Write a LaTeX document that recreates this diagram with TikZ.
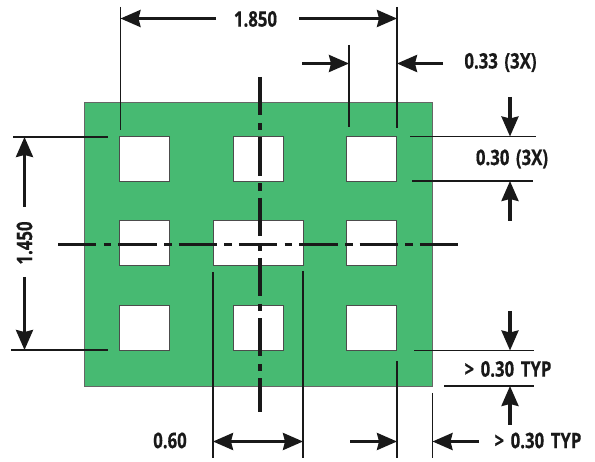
\documentclass[tikz,border=0pt]{standalone}
\usepackage{fontspec}
\setmainfont{Open Sans}[BoldFont={Open Sans Bold}, BoldFeatures={FakeStretch=0.78, FakeBold=0.5, WordSpace=1.5}]
\usetikzlibrary{arrows.meta, positioning}
\definecolor{boardgreen}{HTML}{47BA72}

\begin{document}
\begin{tikzpicture}[x=1pt, y=-1pt]
    % --- Style Definitions ---
    \tikzset{
        board style/.style={
            draw=black!60,
            line width=1pt,
            fill=boardgreen,
            minimum width=348pt,
            minimum height=284pt,
            inner sep=0pt,
            outer sep=0pt
        },
        hole style/.style={
            draw=black!70,
            line width=1pt,
            fill=white,
            minimum width=50pt,
            minimum height=45pt,
            inner sep=0pt,
            outer sep=0pt
        },
        wide hole/.style={
            hole style,
            minimum width=90pt
        },
        center line/.style={
            black!90,
            line width=3.1pt,
            dash pattern=on 38.3pt off 7.5pt on 7.5pt off 7pt
        },
        ext line/.style={
            black!90,
            line width=1.9pt
        },
        dim arrow/.style={
            -{Stealth[length=20pt, width=17pt, inset=2pt]},
            black!90,
            line width=3.1pt
        },
        dim both/.style={
            dim arrow,
            {Stealth[length=20pt, width=17pt, inset=2pt]}-{Stealth[length=20pt, width=17pt, inset=2pt]}
        },
        dim label/.style={
            font=\bfseries\fontsize{21.5pt}{22pt}\selectfont,
            black!90,
            inner sep=0pt
        }
    }
    \useasboundingbox (0,0) rectangle (595,462);

    % --- 1. Board and Holes ---
    \node[board style] (board) at (258.2,244.2) {};

    \node[hole style] (hole_a1) at (144.3,158.7) {};
    \node[hole style] (hole_b1) at (258.3,158.7) {};
    \node[hole style] (hole_c1) at (371.9,158.7) {};
    \node[hole style] (hole_a2) at (144.3,243.3) {};
    \node[wide hole] (hole_b2) at (258.3,243.3) {};
    \node[hole style] (hole_c2) at (371.9,243.3) {};
    \node[hole style] (hole_a3) at (144.3,328.3) {};
    \node[hole style] (hole_b3) at (258.3,328.3) {};
    \node[hole style] (hole_c3) at (371.9,328.3) {};

    % --- 2. Center Lines ---
    \coordinate (cv_top) at (260,77);
    \coordinate (cv_bot) at (260,412);
    \coordinate (ch_left) at (58,244.5);
    \coordinate (ch_right) at (458,244.5);
    \draw[center line] (cv_top) -- (cv_bot);
    \draw[center line] (ch_left) -- (ch_right);

    % --- 3. Labels ---
    \node[dim label] (lbl_width) at (255.5,19) {1.850};
    \node[dim label] (lbl_pitch) at (500.5,62.5) {0.33 (3X)};
    \node[dim label] (lbl_hole) at (512,159) {0.30 (3X)};
    \node[dim label, rotate=90] (lbl_height) at (24.5,243) {1.450};
    \node[dim label] (lbl_gap) at (170,440.5) {0.60};
    \node[dim label] (lbl_edge_y) at (508,369) {> 0.30 TYP};
    \node[dim label] (lbl_edge_x) at (538,440.5) {> 0.30 TYP};

    % --- 4. Top Dimensions ---
    \coordinate (ext_w1a) at (120.5,7);
    \coordinate (ext_w1b) at (120.5,130);
    \coordinate (ext_w2a) at (397,7);
    \coordinate (ext_w2b) at (397,128);
    \coordinate (ext_p1a) at (349,45);
    \coordinate (ext_p1b) at (349,127);
    \draw[ext line] (ext_w1a) -- (ext_w1b);
    \draw[ext line] (ext_w2a) -- (ext_w2b);
    \draw[ext line] (ext_p1a) -- (ext_p1b);

    \coordinate (w_left) at (120.5,18.5);
    \coordinate (w_right) at (397,18.5);
    \coordinate (w_from1) at (216,18.5);
    \coordinate (w_from2) at (299,18.5);
    \draw[dim arrow] (w_from1) -- (w_left);
    \draw[dim arrow] (w_from2) -- (w_right);

    \coordinate (p_from1) at (302,63.5);
    \coordinate (p_to1) at (349,63.5);
    \coordinate (p_from2) at (443,63.5);
    \coordinate (p_to2) at (397,63.5);
    \draw[dim arrow] (p_from1) -- (p_to1);
    \draw[dim arrow] (p_from2) -- (p_to2);

    % --- 5. Right Dimensions ---
    \coordinate (ext_h1a) at (410,136.5);
    \coordinate (ext_h1b) at (536,136.5);
    \coordinate (ext_h2a) at (412,181);
    \coordinate (ext_h2b) at (533,181);
    \draw[ext line] (ext_h1a) -- (ext_h1b);
    \draw[ext line] (ext_h2a) -- (ext_h2b);

    \coordinate (h_from1) at (510,97);
    \coordinate (h_to1) at (510,136.5);
    \coordinate (h_from2) at (510,221);
    \coordinate (h_to2) at (510,181);
    \draw[dim arrow] (h_from1) -- (h_to1);
    \draw[dim arrow] (h_from2) -- (h_to2);

    \coordinate (ext_e1a) at (414,350.5);
    \coordinate (ext_e1b) at (534,350.5);
    \coordinate (ext_e2a) at (444,386);
    \coordinate (ext_e2b) at (534,386);
    \draw[ext line] (ext_e1a) -- (ext_e1b);
    \draw[ext line] (ext_e2a) -- (ext_e2b);

    \coordinate (e_from1) at (510,311);
    \coordinate (e_to1) at (510,350.5);
    \coordinate (e_from2) at (510,425);
    \coordinate (e_to2) at (510,386);
    \draw[dim arrow] (e_from1) -- (e_to1);
    \draw[dim arrow] (e_from2) -- (e_to2);

    % --- 6. Left Dimension ---
    \coordinate (ext_v1a) at (13,137);
    \coordinate (ext_v1b) at (108,137);
    \coordinate (ext_v2a) at (11,350);
    \coordinate (ext_v2b) at (108,350);
    \draw[ext line] (ext_v1a) -- (ext_v1b);
    \draw[ext line] (ext_v2a) -- (ext_v2b);

    \coordinate (v_from1) at (24.5,207);
    \coordinate (v_to1) at (24.5,137);
    \coordinate (v_from2) at (24.5,277);
    \coordinate (v_to2) at (24.5,350);
    \draw[dim arrow] (v_from1) -- (v_to1);
    \draw[dim arrow] (v_from2) -- (v_to2);

    % --- 7. Bottom Dimensions ---
    \coordinate (ext_s1a) at (213,272);
    \coordinate (ext_s1b) at (213,458);
    \coordinate (ext_s2a) at (303,271);
    \coordinate (ext_s2b) at (303,458);
    \coordinate (ext_s3a) at (397,361);
    \coordinate (ext_s3b) at (397,458);
    \coordinate (ext_s4a) at (432.5,393);
    \coordinate (ext_s4b) at (432.5,458);
    \draw[ext line] (ext_s1a) -- (ext_s1b);
    \draw[ext line] (ext_s2a) -- (ext_s2b);
    \draw[ext line] (ext_s3a) -- (ext_s3b);
    \draw[ext line] (ext_s4a) -- (ext_s4b);

    \coordinate (s_left) at (213,441.5);
    \coordinate (s_right) at (303,441.5);
    \draw[dim both] (s_left) -- (s_right);

    \coordinate (x_from1) at (350,441.5);
    \coordinate (x_to1) at (397,441.5);
    \coordinate (x_from2) at (479,441.5);
    \coordinate (x_to2) at (432.5,441.5);
    \draw[dim arrow] (x_from1) -- (x_to1);
    \draw[dim arrow] (x_from2) -- (x_to2);

\end{tikzpicture}
\end{document}
